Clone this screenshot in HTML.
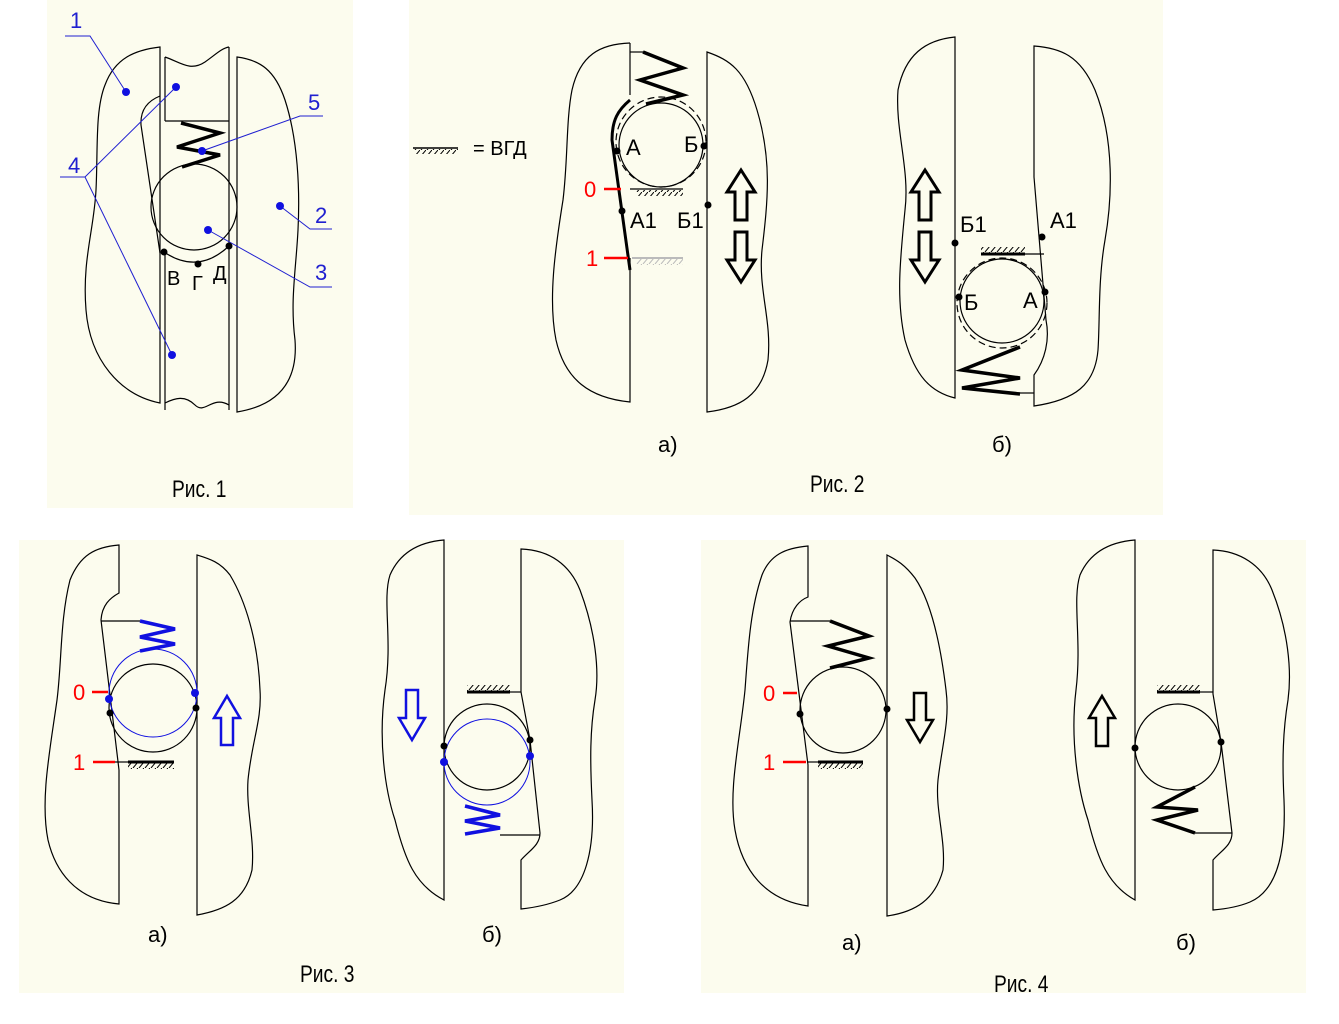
<!DOCTYPE html>
<html><head><meta charset="utf-8"><style>
html,body{margin:0;padding:0;background:#fff}
svg{display:block}
text{font-family:"Liberation Sans",sans-serif}
</style></head><body>
<svg width="1339" height="1024" viewBox="0 0 1339 1024" xmlns="http://www.w3.org/2000/svg">
<defs>
<pattern id="h" width="6" height="6" patternUnits="userSpaceOnUse">
<line x1="6" y1="0" x2="1" y2="6" stroke="#000" stroke-width="1"/>
</pattern>
<pattern id="hg" width="6" height="6" patternUnits="userSpaceOnUse">
<line x1="6" y1="0" x2="1" y2="6" stroke="#bbb" stroke-width="1"/>
</pattern>
</defs>
<rect width="1339" height="1024" fill="#fff"/>
<rect x="47" y="0" width="306" height="508" fill="#fcfcee"/>
<rect x="409" y="0" width="754" height="515" fill="#fcfcee"/>
<rect x="19" y="540" width="605" height="453" fill="#fcfcee"/>
<rect x="701" y="540" width="605" height="453" fill="#fcfcee"/>

<g fill="none" stroke="#000" stroke-width="1.2">
<!-- FIG 1 -->
<path d="M160,47 C135,50 115,58 105,85 C95,110 98,150 96,190 C94,230 82,260 86,310 C90,360 120,395 160,403 Z"/>
<path d="M160,96 C150,100 140,108 141,125 L160,253"/>
<line x1="165" y1="250" x2="165" y2="410"/>
<path d="M165,57 C180,62 190,72 205,62 C215,55 222,48 229,47"/>
<line x1="165" y1="57" x2="165" y2="121"/><line x1="165" y1="121" x2="229" y2="121"/>
<line x1="229" y1="47" x2="229" y2="410"/>
<path d="M165,403 C175,398 185,395 195,405 C205,415 212,395 229,405"/>
<path d="M237,57 C260,60 275,70 285,100 C298,140 300,190 298,230 C296,270 290,300 295,340 C298,380 280,405 237,412 Z"/>
<circle cx="194" cy="207" r="43"/>
<path d="M164,252 Q198,275 229,246"/>
<path d="M181,123 L220,133 L177,147 L220,155 L182,167" stroke-width="3.5"/>
<!-- FIG 2a -->
<path d="M630,43 C600,44 580,55 572,90 C566,120 568,160 563,200 C555,250 548,300 556,340 C565,380 590,398 630,402 L630,258"/>
<line x1="630" y1="43" x2="630" y2="95"/>
<path d="M630,100 C618,110 612,120 612,140 L630,270" stroke-width="3"/>
<path d="M707,52 L707,412 C740,408 762,395 768,360 C772,320 758,290 762,250 C768,200 772,160 757,110 C745,70 730,60 707,52 Z"/>
<line x1="630" y1="52" x2="646" y2="52"/>
<path d="M643,52 L683,68 L640,80 L683,95 L646,104" stroke-width="3.5"/>
<circle cx="661" cy="145" r="42"/>
<circle cx="661" cy="142" r="45" stroke-dasharray="7,4"/>
<line x1="630" y1="189" x2="683" y2="189"/>
<rect x="636" y="190" width="47" height="6" fill="url(#h)" stroke="none"/>
<line x1="632" y1="258" x2="683" y2="258" stroke="#bbb" stroke-width="2"/>
<rect x="636" y="259" width="47" height="6" fill="url(#hg)" stroke="none"/>
<path d="M741,170 L755,192 L747,192 L747,220 L735,220 L735,192 L727,192 Z" stroke-width="3"/>
<path d="M741,282 L755,260 L747,260 L747,232 L735,232 L735,260 L727,260 Z" stroke-width="3"/>
<line x1="413" y1="148" x2="458" y2="148" stroke-width="1.5"/>
<rect x="414" y="149" width="44" height="5" fill="url(#h)" stroke="none"/>
<!-- FIG 2b -->
<path d="M955,37 C925,40 905,55 898,90 C895,130 910,170 905,210 C900,260 896,300 905,340 C915,375 930,392 955,398 Z"/>
<path d="M1034,46 C1060,48 1080,55 1095,90 C1115,140 1112,200 1105,240 C1098,280 1100,320 1098,350 C1095,385 1075,400 1034,406 L1034,375 C1045,360 1050,340 1046,320 L1034,177 Z"/>
<circle cx="1002" cy="301" r="42"/>
<circle cx="1002" cy="303" r="45" stroke-dasharray="7,4"/>
<line x1="981" y1="254" x2="1044" y2="254"/>
<rect x="981" y="247" width="44" height="6" fill="url(#h)" stroke="none"/>
<line x1="981" y1="254" x2="1025" y2="254" stroke-width="3"/>
<path d="M1020,347 L962,370 L1020,378 L962,388 L1020,394" stroke-width="3.5"/>
<line x1="1018" y1="393" x2="1034" y2="393"/>
<path d="M925,170 L939,192 L931,192 L931,220 L919,220 L919,192 L911,192 Z" stroke-width="3"/>
<path d="M925,282 L939,260 L931,260 L931,232 L919,232 L919,260 L911,260 Z" stroke-width="3"/>

<!-- FIG 3a -->
<path d="M119,545 C95,547 80,555 70,580 C60,620 62,660 57,700 C50,750 40,800 48,840 C55,870 75,900 119,904 L119,770 L101,620 C102,605 110,598 119,593 Z"/>
<path d="M197,555 L197,915 C225,910 245,900 252,870 C255,840 246,810 248,780 C252,740 262,720 260,690 C258,640 245,600 230,575 C220,562 210,559 197,555 Z"/>
<line x1="101" y1="621" x2="140" y2="621"/>
<circle cx="153" cy="708" r="44"/>
<line x1="128" y1="762" x2="174" y2="762" stroke-width="3"/>
<rect x="128" y="763" width="46" height="6" fill="url(#h)" stroke="none"/>
<line x1="115" y1="762" x2="128" y2="762"/>
<!-- FIG 3b -->
<path d="M444,540 C420,542 400,552 390,575 C382,600 393,640 385,690 C378,740 385,790 395,820 C405,860 415,885 444,900 Z"/>
<path d="M521,549 C550,550 570,565 580,590 C595,630 600,670 595,700 C590,730 590,760 592,800 C595,850 585,890 560,900 C545,906 530,908 521,909 L521,860 C530,850 540,845 540,833 L530,740 L521,692 Z"/>
<line x1="510" y1="692" x2="521" y2="692"/>
<line x1="467" y1="692" x2="510" y2="692" stroke-width="3"/>
<rect x="467" y="685" width="43" height="6" fill="url(#h)" stroke="none"/>
<circle cx="487" cy="747" r="43"/>
<line x1="500" y1="835" x2="540" y2="835"/>

<!-- FIG 4a -->
<path d="M808,546 C785,548 770,555 762,575 C750,610 748,650 745,690 C740,740 728,790 735,830 C742,870 765,900 808,906 L808,765 L790,622 C792,608 800,600 808,597 Z"/>
<path d="M887,555 L887,916 C915,912 935,900 943,870 C946,840 935,810 938,780 C942,745 950,720 946,690 C940,640 930,600 915,578 C905,565 897,560 887,555 Z"/>
<line x1="790" y1="621" x2="830" y2="621"/>
<path d="M830,621 L869,636 L828,646 L869,658 L830,668" stroke-width="3.5"/>
<circle cx="843" cy="710" r="43"/>
<line x1="807" y1="762" x2="818" y2="762"/>
<line x1="818" y1="762" x2="863" y2="762" stroke-width="3"/>
<rect x="818" y="763" width="45" height="6" fill="url(#h)" stroke="none"/>
<path d="M920,742 L933,720 L926,720 L926,693 L914,693 L914,720 L907,720 Z" stroke-width="2.5"/>
<!-- FIG 4b -->
<path d="M1135,540 C1110,542 1090,552 1080,575 C1072,600 1082,640 1076,690 C1070,740 1078,790 1088,820 C1098,860 1108,885 1135,900 Z"/>
<path d="M1213,550 C1240,551 1262,565 1272,590 C1288,630 1292,670 1288,700 C1283,730 1282,760 1284,800 C1286,850 1278,890 1250,902 C1238,907 1225,909 1213,910 L1213,860 C1222,850 1232,845 1232,833 L1221,742 L1213,694 Z"/>
<line x1="1200" y1="692" x2="1213" y2="692"/>
<line x1="1157" y1="692" x2="1200" y2="692" stroke-width="3"/>
<rect x="1157" y="685" width="43" height="6" fill="url(#h)" stroke="none"/>
<circle cx="1178" cy="747" r="43"/>
<path d="M1195,787 L1157,807 L1198,810 L1157,820 L1195,833" stroke-width="3.5"/>
<line x1="1195" y1="833" x2="1232" y2="833"/>
<path d="M1102,696 L1115,718 L1108,718 L1108,746 L1096,746 L1096,718 L1089,718 Z" stroke-width="2.5"/>
</g>

<g fill="none" stroke="#1010e0">
<path d="M140,621 L175,629 L140,637 L175,644 L140,651" stroke-width="3.5"/>
<circle cx="153" cy="693" r="44" stroke-width="1"/>
<path d="M227,696 L240,718 L233,718 L233,745 L221,745 L221,718 L214,718 Z" stroke-width="2.5"/>
<path d="M465,806 L500,815 L465,821 L500,828 L465,834" stroke-width="3.5"/>
<circle cx="487" cy="762" r="43" stroke-width="1"/>
<path d="M412,740 L425,718 L418,718 L418,690 L406,690 L406,718 L399,718 Z" stroke-width="2.5"/>
</g>

<g stroke="#f00" stroke-width="2.5">
<line x1="604" y1="189" x2="621" y2="189"/>
<line x1="604" y1="258" x2="628" y2="258"/>
<line x1="92" y1="692" x2="108" y2="692"/>
<line x1="93" y1="762" x2="115" y2="762"/>
<line x1="783" y1="693" x2="797" y2="693"/>
<line x1="783" y1="762" x2="806" y2="762"/>
</g>

<g stroke="#2020d0" stroke-width="1" fill="none">
<path d="M65,36 L90,36 L126,92"/>
<path d="M60,177 L85,177 L176,87"/>
<path d="M85,177 L172,355"/>
<path d="M323,116 L300,116 L202,151"/>
<path d="M332,229 L310,229 L280,206"/>
<path d="M332,287 L310,287 L208,230"/>
</g>
<g fill="#1010e0">
<circle cx="126" cy="92" r="4"/><circle cx="176" cy="87" r="4"/><circle cx="172" cy="355" r="4"/>
<circle cx="202" cy="151" r="4"/><circle cx="280" cy="206" r="4"/><circle cx="208" cy="230" r="4"/>
<circle cx="109" cy="699" r="4"/><circle cx="195" cy="693" r="4"/>
<circle cx="444" cy="762" r="4"/><circle cx="530" cy="756" r="4"/>
</g>
<g fill="#000">
<circle cx="164" cy="252" r="3.5"/><circle cx="198" cy="264" r="3.5"/><circle cx="229" cy="246" r="3.5"/>
<circle cx="617" cy="151" r="3.5"/><circle cx="704" cy="146" r="3.5"/><circle cx="622" cy="211" r="3.5"/><circle cx="708" cy="205" r="3.5"/>
<circle cx="955" cy="243" r="3.5"/><circle cx="1042" cy="237" r="3.5"/><circle cx="959" cy="297" r="3.5"/><circle cx="1045" cy="292" r="3.5"/>
<circle cx="110" cy="713" r="3.5"/><circle cx="196" cy="708" r="3.5"/>
<circle cx="444" cy="746" r="3.5"/><circle cx="530" cy="740" r="3.5"/>
<circle cx="800" cy="714" r="3.5"/><circle cx="887" cy="709" r="3.5"/>
<circle cx="1135" cy="748" r="3.5"/><circle cx="1221" cy="742" r="3.5"/>
</g>

<g font-size="24" fill="#000">
<text x="172" y="497" transform="translate(172 0) scale(0.8 1) translate(-172 0)">Рис. 1</text>
<text x="810" y="492" transform="translate(810 0) scale(0.8 1) translate(-810 0)">Рис. 2</text>
<text x="300" y="982" transform="translate(300 0) scale(0.8 1) translate(-300 0)">Рис. 3</text>
<text x="994" y="992" transform="translate(994 0) scale(0.8 1) translate(-994 0)">Рис. 4</text>
</g>
<g font-size="22" fill="#000">
<text x="658" y="452">а)</text><text x="992" y="452">б)</text>
<text x="148" y="942">а)</text><text x="482" y="942">б)</text>
<text x="842" y="950">а)</text><text x="1176" y="950">б)</text>
<text x="473" y="155" font-size="20">= ВГД</text>
<text x="167" y="285" font-size="20">В</text><text x="192" y="290" font-size="20">Г</text><text x="213" y="280" font-size="20">Д</text>
<text x="626" y="155" font-size="22">А</text><text x="684" y="152" font-size="22">Б</text>
<text x="630" y="228" font-size="22">А1</text><text x="677" y="228" font-size="22">Б1</text>
<text x="960" y="232" font-size="22">Б1</text><text x="1050" y="228" font-size="22">А1</text>
<text x="964" y="310" font-size="22">Б</text><text x="1023" y="308" font-size="22">А</text>
</g>
<g font-size="22" fill="#2020d0">
<text x="70" y="28">1</text><text x="68" y="173">4</text><text x="308" y="110">5</text>
<text x="315" y="223">2</text><text x="315" y="280">3</text>
</g>
<g font-size="22" fill="#f00">
<text x="584" y="197">0</text><text x="586" y="266">1</text>
<text x="73" y="700">0</text><text x="73" y="770">1</text>
<text x="763" y="701">0</text><text x="763" y="770">1</text>
</g>
</svg>
</body></html>
